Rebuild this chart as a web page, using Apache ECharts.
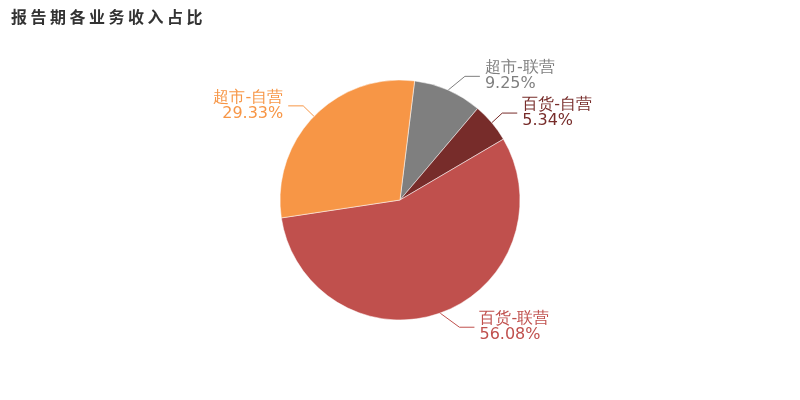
<!DOCTYPE html>
<html><head><meta charset="utf-8">
<script src="https://cdn.jsdelivr.net/npm/echarts@6/dist/echarts.min.js"></script>
<style>html,body{margin:0;padding:0;background:#fff}#c{width:800px;height:400px}</style>
</head><body><div id="c"></div>
<script>
var titleText = '报告期各业务收入占比';
var names = ['超市-联营', '百货-自营', '百货-联营', '超市-自营'];
var values = [9.25, 5.34, 56.08, 29.33];
var colors = ['#7f7f7f', '#772c2a', '#c0504d', '#f79646'];

var chart = echarts.init(document.getElementById('c'));
var RADIUS_PCT = 0.6, LEN = 15, LEN2 = 15, GAP = 5;

// Label placement in the classic style: label text sits on a circle of radius r+len+len2
function classicLabelLayout(params) {
  var w = chart.getWidth(), h = chart.getHeight();
  var cx = w / 2, cy = h / 2;
  var r = RADIUS_PCT * Math.min(w, h) / 2;
  var pts = params.labelLinePoints;
  if (!pts) return {};
  var dir = pts[2][0] >= pts[1][0] ? 1 : -1;
  var y = pts[1][1];
  var R = r + LEN + LEN2;
  var dy = Math.abs(y - cy);
  var dx = dy < R ? Math.sqrt(R * R - dy * dy) : Math.abs(pts[2][0] - cx);
  var tx = cx + dir * dx;
  var p2x = tx - dir * GAP;
  var p1x = p2x - dir * LEN2;
  return {
    x: tx, y: y,
    align: dir > 0 ? 'left' : 'right',
    verticalAlign: 'middle',
    labelLinePoints: [pts[0], [p1x, y], [p2x, y]]
  };
}

chart.setOption({
  backgroundColor: '#fff',
  animation: false,
  title: {
    text: titleText.split('').map(function (ch) { return '{c|' + ch + '}'; }).join(''),
    left: 6, top: 4,
    textStyle: {
      fontSize: 16, fontWeight: 'bold', color: '#333', fontFamily: 'Noto Sans CJK SC',
      rich: {c: {fontSize: 16, fontWeight: 'bold', color: '#333', fontFamily: 'Noto Sans CJK SC', padding: [0, 3.5, 0, 0]}}
    }
  },
  series: [{
    type: 'pie',
    center: ['50%', '50%'],
    radius: ['0%', (RADIUS_PCT * 100) + '%'],
    startAngle: 83,
    clockwise: true,
    data: names.map(function (n, i) {
      return {name: n, value: values[i], itemStyle: {color: colors[i]}};
    }),
    itemStyle: {borderColor: '#fff', borderWidth: 0.5},
    label: {
      formatter: function (p) { return p.name + '\n' + p.value.toFixed(2) + '%'; },
      fontSize: 16, lineHeight: 16, fontFamily: 'DejaVu Sans',
      color: 'inherit'
    },
    labelLine: {length: LEN, length2: LEN2, lineStyle: {width: 1}},
    labelLayout: classicLabelLayout
  }]
});
</script></body></html>
